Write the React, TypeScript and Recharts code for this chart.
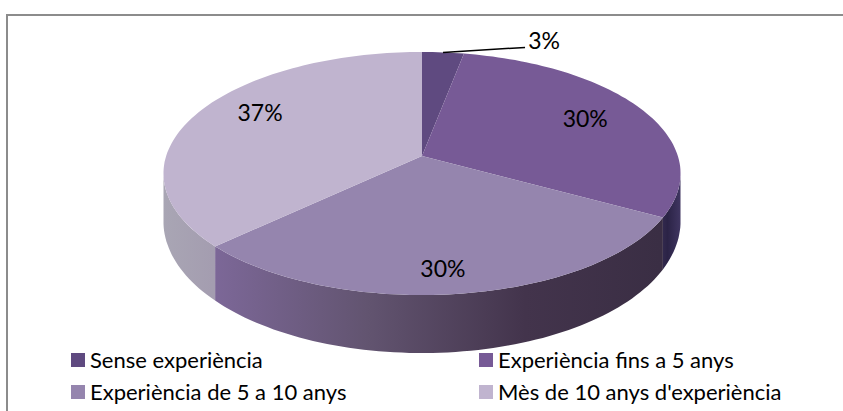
import React from "react";
import { PieChart, Pie, Legend } from "recharts";

const categories = ["Sense experiència", "Experiència fins a 5 anys", "Experiència de 5 a 10 anys", "Mès de 10 anys d'experiència"];
const shares = [3, 30, 30, 37];
const sliceColors = ["#5f4a80", "#775a96", "#9585ae", "#c0b4cf"];
const wallFills = ["#4a3a60", "url(#wallRight)", "url(#wallFront)", "url(#wallLeft)"];
const labelPlacement = [
  { r: 1, dx: 101, dy: -12 },
  { r: 0.62, dx: 28, dy: -8 },
  { r: 0.8, dx: -9, dy: 2 },
  { r: 0.72, dx: -2, dy: -12 },
];

const tableData = categories.map((name, i) => ({ name, value: shares[i], fill: sliceColors[i] }));

const K = 0.144;
const X_SCALE = 2.15;
const WALL_START = 98;
const WALL_END = 262;
const DEPTH_MAX = 58;
const DEPTH_MIN = 46;
const FONT = "Lato, Carlito, Calibri, sans-serif";

function project(cx: number, cy: number, R: number, theta: number) {
  const t = (theta * Math.PI) / 180;
  const u = Math.sin(t);
  const v = Math.cos(t);
  const d = 1 + K * v;
  return { x: cx + (X_SCALE * R * u) / d, y: cy - (R * v) / d, v };
}

function rim(cx: number, cy: number, R: number, a: number, b: number) {
  const pts: { x: number; y: number; v: number }[] = [];
  const n = Math.max(2, Math.ceil((b - a) / 1.5));
  for (let i = 0; i <= n; i++) pts.push(project(cx, cy, R, a + ((b - a) * i) / n));
  return pts;
}

function PerspectiveSlice(props: any) {
  const { cx, cy, outerRadius: R, startAngle, endAngle, fill, index } = props;
  const a = 90 - startAngle;
  const b = 90 - endAngle;
  const top = rim(cx, cy, R, a, b);
  const topPath = `M${cx},${cy}` + top.map((p) => `L${p.x.toFixed(1)},${p.y.toFixed(1)}`).join("") + "Z";
  const wa = Math.max(a, WALL_START);
  const wb = Math.min(b, WALL_END);
  let wall: React.ReactNode = null;
  if (wb > wa) {
    const up = rim(cx, cy, R, wa, wb);
    const down = up
      .slice()
      .reverse()
      .map((p) => ({ x: p.x, y: p.y + DEPTH_MIN + (DEPTH_MAX - DEPTH_MIN) * Math.min(1, Math.max(0, -p.v)) }));
    const d =
      up.map((p, i) => `${i ? "L" : "M"}${p.x.toFixed(1)},${p.y.toFixed(1)}`).join("") +
      down.map((p) => `L${p.x.toFixed(1)},${p.y.toFixed(1)}`).join("") +
      "Z";
    wall = <path d={d} fill={wallFills[index ?? sliceColors.indexOf(fill)]} />;
  }
  return (
    <g>
      {wall}
      <path d={topPath} fill={fill} />
    </g>
  );
}

function sliceLabel(props: any) {
  const { cx, cy, outerRadius: R, midAngle, value, index } = props;
  const place = labelPlacement[index];
  const p = project(cx, cy, R * place.r, 90 - midAngle);
  const x = p.x + place.dx;
  const y = p.y + place.dy;
  return (
    <g key={index}>
      {index === 0 && (
        <line x1={p.x} y1={p.y} x2={x - 19} y2={y + 7} stroke="#000" strokeWidth={1.5} />
      )}
      <text x={x} y={y} textAnchor="middle" dominantBaseline="central" fontFamily={FONT} fontSize={23} fill="#000">
        {`${value}%`}
      </text>
    </g>
  );
}

function LegendGrid(props: any) {
  const { payload } = props;
  const ordered = [...(payload || [])].sort((p: any, q: any) => categories.indexOf(p.value) - categories.indexOf(q.value));
  return (
    <div style={{ display: "grid", gridTemplateColumns: "408px 340px", rowGap: 7, fontFamily: FONT, fontSize: 22, lineHeight: "25px", color: "#000" }}>
      {ordered.map((e: any) => (
        <div key={e.value} style={{ display: "flex", alignItems: "center", whiteSpace: "nowrap" }}>
          <span style={{ width: 14, height: 14, background: e.color, marginRight: 5, display: "inline-block" }} />
          {e.value}
        </div>
      ))}
    </div>
  );
}

export default function App() {
  return (
    <div style={{ position: "absolute", left: 0, top: 0, width: 843, height: 411, background: "#fff", overflow: "hidden" }}>
      <div style={{ position: "absolute", left: 6, top: 14, width: 860, height: 420, borderLeft: "2px solid #8c8c8c", borderTop: "2px solid #8c8c8c" }} />
      <div style={{ position: "absolute", left: 0, top: 0 }}>
        <PieChart width={843} height={411} margin={{ top: 0, right: 0, bottom: 0, left: 0 }}>
          <defs>
            <linearGradient id="wallFront" gradientUnits="userSpaceOnUse" x1="210" y1="0" x2="660" y2="0">
              <stop offset="0" stopColor="#7d6899" />
              <stop offset="0.35" stopColor="#625470" />
              <stop offset="0.7" stopColor="#43344c" />
              <stop offset="1" stopColor="#3a2e44" />
            </linearGradient>
            <linearGradient id="wallRight" gradientUnits="userSpaceOnUse" x1="655" y1="0" x2="680" y2="0">
              <stop offset="0" stopColor="#3c3258" />
              <stop offset="0.5" stopColor="#2b2346" />
              <stop offset="1" stopColor="#3f3560" />
            </linearGradient>
            <linearGradient id="wallLeft" gradientUnits="userSpaceOnUse" x1="162" y1="0" x2="212" y2="0">
              <stop offset="0" stopColor="#a9a6b4" />
              <stop offset="1" stopColor="#a49db0" />
            </linearGradient>
          </defs>
          <Pie
            data={tableData}
            dataKey="value"
            nameKey="name"
            cx={422}
            cy={156}
            outerRadius={119}
            startAngle={90}
            endAngle={-270}
            stroke="none"
            isAnimationActive={false}
            shape={PerspectiveSlice}
            label={sliceLabel}
            labelLine={false}
          />
          <Legend
            content={LegendGrid}
            wrapperStyle={{ position: "absolute", left: 71, top: 347, width: 760, height: 60 }}
          />
        </PieChart>
      </div>
    </div>
  );
}
